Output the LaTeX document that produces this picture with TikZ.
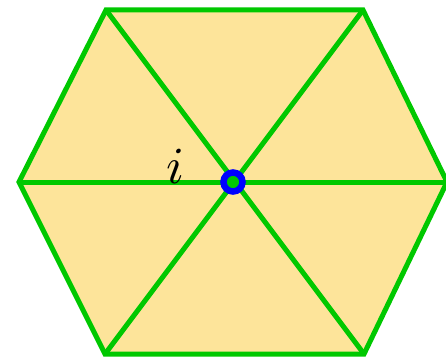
\documentclass[tikz,border=0pt]{standalone}
\usetikzlibrary{positioning}
\definecolor{hexfill}{RGB}{253,228,154}
\definecolor{hexgreen}{RGB}{0,200,0}
\tikzset{edge/.style={draw=hexgreen,line width=5pt}}
\begin{document}
\begin{tikzpicture}[x=1pt,y=-1pt]
  \useasboundingbox (0,0) rectangle (446,358);
  \clip (0,0) rectangle (446,358);
  \coordinate (c) at (233,182);
  \coordinate (v1) at (106,10);
  \coordinate (v2) at (363,10);
  \coordinate (v3) at (447,182);
  \coordinate (v4) at (364,354);
  \coordinate (v5) at (105,354);
  \coordinate (v6) at (19,182);
  \fill[hexfill] (v1) -- (v2) -- (v3) -- (v4) -- (v5) -- (v6) -- cycle;
  \draw[edge] (v1) -- (v4);
  \draw[edge] (v2) -- (v5);
  \draw[edge] (v3) -- (v6);
  \draw[edge,line join=miter] (v1) -- (v2) -- (v3) -- (v4) -- (v5) -- (v6) -- cycle;
  \node[scale=5.2,inner sep=0pt] (lbl) at (175,166) {$i$};
  \draw[blue,fill=hexgreen,line width=6.5pt] (c) circle (9.5);
\end{tikzpicture}
\end{document}
